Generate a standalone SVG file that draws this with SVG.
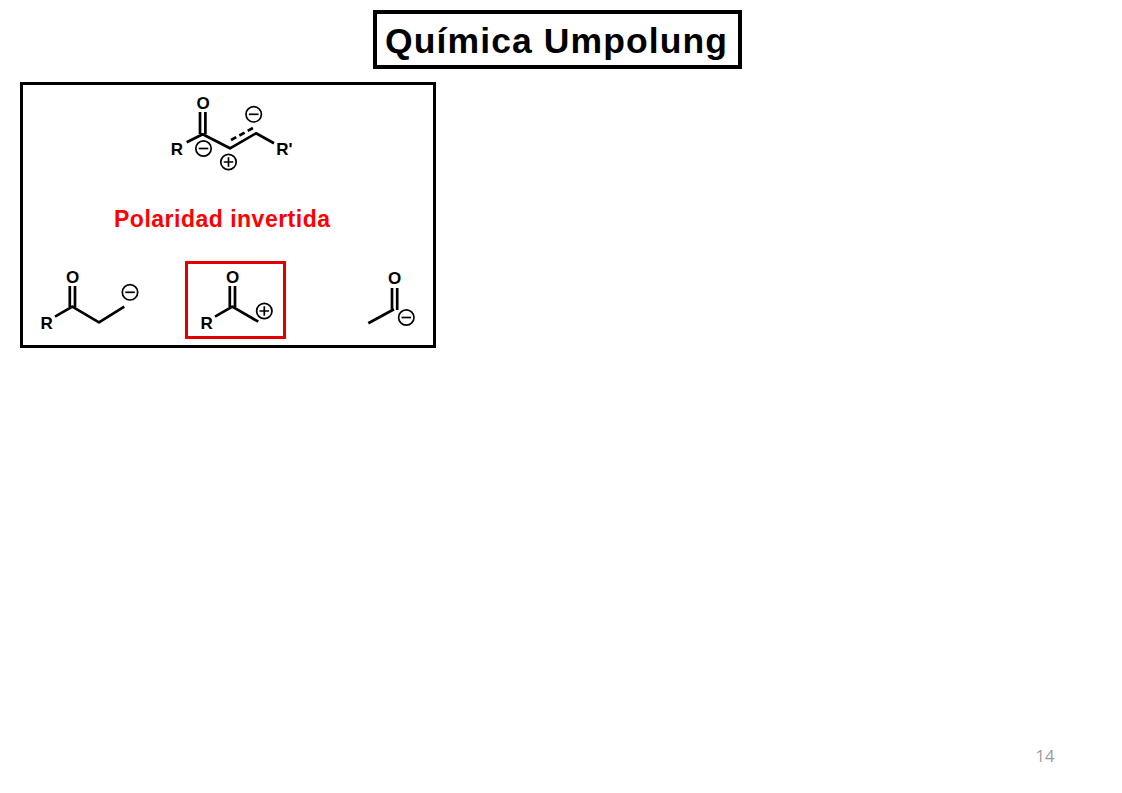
<svg xmlns="http://www.w3.org/2000/svg" width="1122" height="793" viewBox="0 0 1122 793">
<style>
text{font-family:"Liberation Sans",Arial,sans-serif;font-weight:bold}
.at{font-size:17px;fill:#000;text-anchor:middle}
.b{fill:none;stroke:#000;stroke-width:2.7;stroke-linecap:butt;stroke-linejoin:round}
.c{fill:none;stroke:#000;stroke-width:1.7}
</style>
<defs>
<g id="minus"><circle class="c" r="7.7"/><path class="c" d="M-4.8 0H4.8"/></g>
<g id="plus"><circle class="c" r="7.7"/><path class="c" d="M-4.8 0H4.8M0-4.8V4.8"/></g>
</defs>
<rect width="1122" height="793" fill="#fff"/>
<g id="title"><rect x="375" y="12" width="365" height="55" fill="#fff" stroke="#000" stroke-width="4"/>
<text x="385" y="52.5" font-size="35.5" textLength="342" lengthAdjust="spacing">Química Umpolung</text></g>
<g id="panel"><rect x="21.5" y="83.5" width="413" height="263" fill="#fff" stroke="#000" stroke-width="3"/></g>
<g id="mol-top">
<path class="b" d="M200 112V134M205.4 112V134M186.7 142.3L202.7 134.3L230 148.3L256 133.3L274 143.3"/>
<path class="b" stroke-dasharray="6 3.5" d="M231 140L253 128"/>
<text class="at" x="203" y="108.5">O</text><text class="at" x="177" y="155">R</text><text class="at" x="284.5" y="155">R'</text>
<use href="#minus" x="203.5" y="148.5"/><use href="#plus" x="228.5" y="162"/><use href="#minus" x="253.7" y="114.3"/>
</g>
<g id="label"><text x="114" y="226.5" font-size="23" fill="#f00" textLength="216" lengthAdjust="spacing">Polaridad invertida</text></g>
<g id="mol-left">
<path class="b" d="M69.8 286V307M75 286V307M55 316.7L72.3 306.7L99 322.3L124.3 306.7"/>
<text class="at" x="72.5" y="283">O</text><text class="at" x="46.7" y="328.5">R</text>
<use href="#minus" x="130" y="292.3"/>
</g>
<g id="mol-mid">
<rect x="186.5" y="262.5" width="98" height="75" fill="none" stroke="#e00000" stroke-width="3"/>
<path class="b" d="M229.8 286V307M235 286V307M215 316.7L232.3 306.7L258.3 321.7"/>
<text class="at" x="232.5" y="283">O</text><text class="at" x="206.7" y="328.5">R</text>
<use href="#plus" x="264.3" y="311"/>
</g>
<g id="mol-right">
<path class="b" d="M392 288V310M397.2 288V310M394 309.3L368.3 323.3"/>
<text class="at" x="394.5" y="283.5">O</text>
<use href="#minus" x="406.3" y="317.5"/>
</g>
<g id="page"><text x="1035.5" y="762" font-size="16.5" fill="#9a9a9a" style="font-family:'Open Sans','Liberation Sans',sans-serif;font-weight:normal">14</text></g>
</svg>
